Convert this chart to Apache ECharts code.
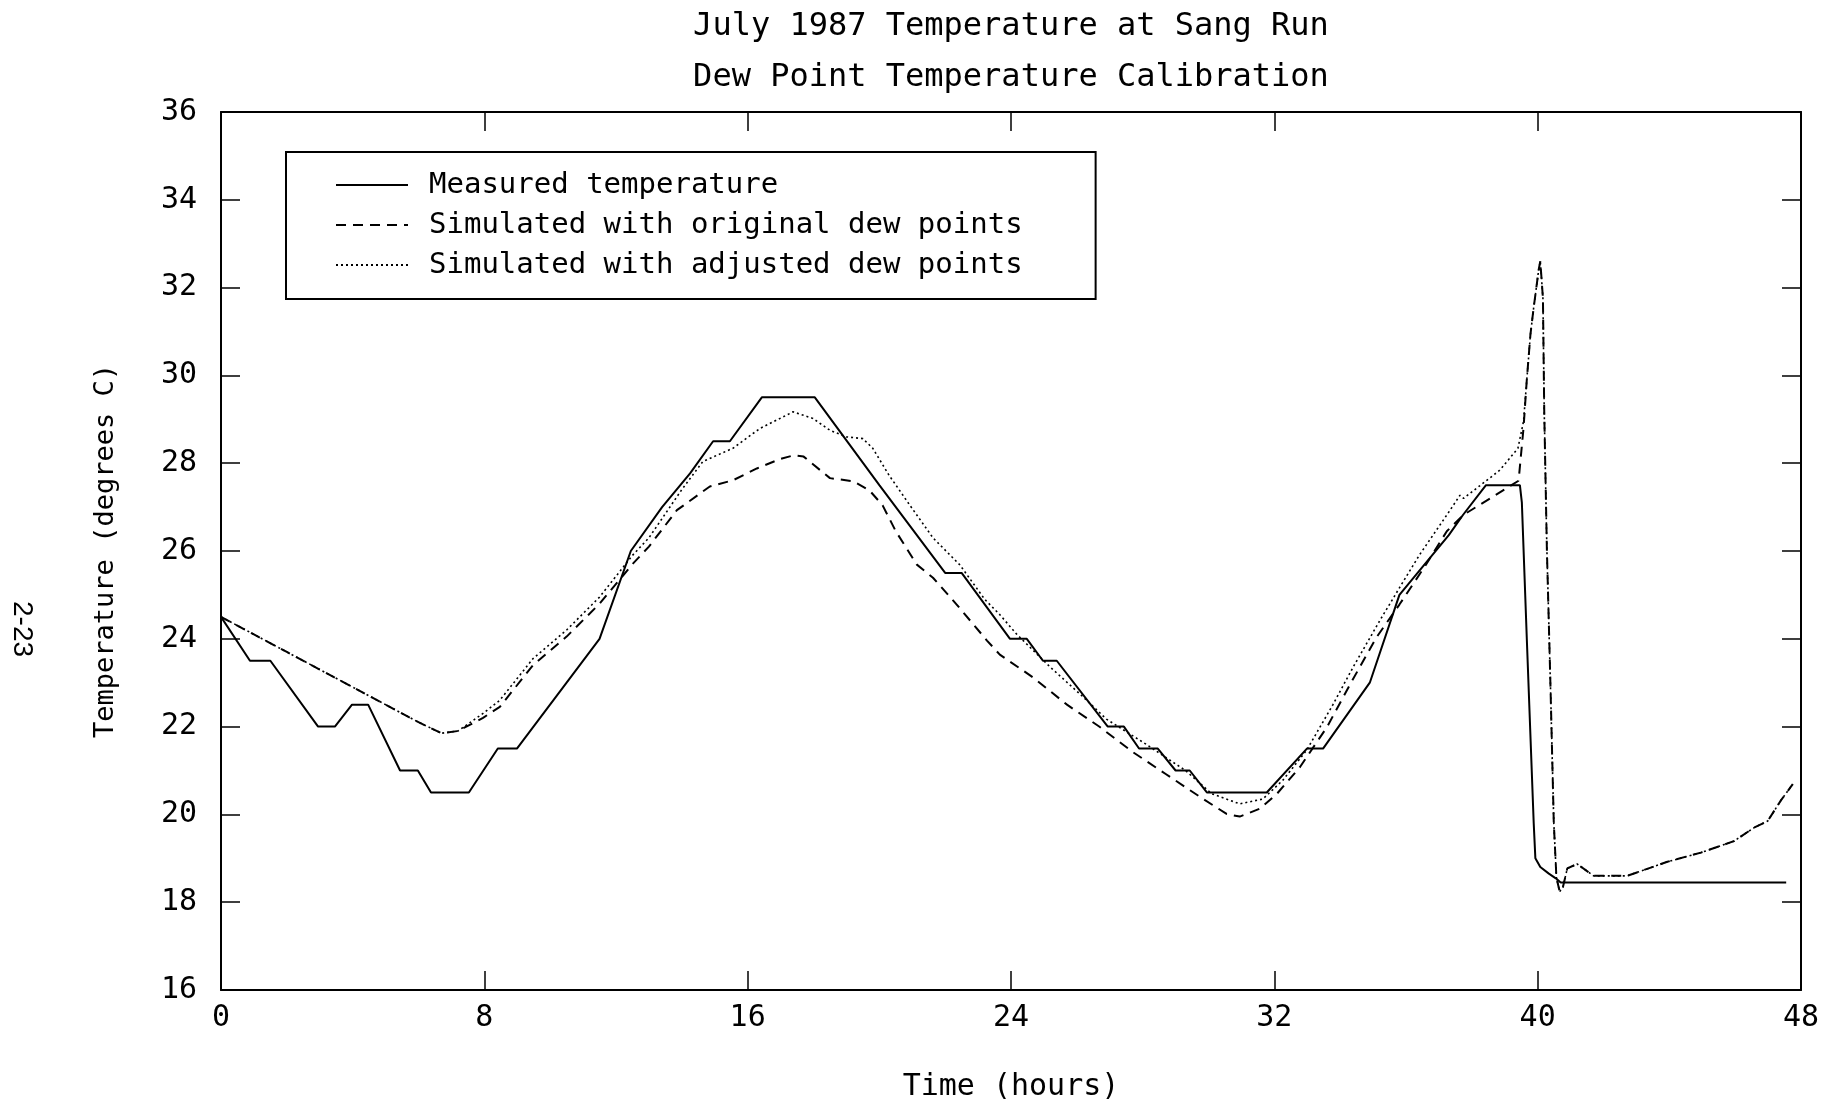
<!DOCTYPE html>
<html>
<head>
<meta charset="utf-8">
<title>July 1987 Temperature at Sang Run</title>
<script src="https://cdn.jsdelivr.net/npm/echarts@6/dist/echarts.min.js"></script>
<style>
  html, body { margin: 0; padding: 0; background: #fff; }
  #chart { width: 1834px; height: 1107px; }
</style>
</head>
<body>
<div id="chart"></div>
<script>
// Hours since start of record and water temperature (degrees C)
const measuredHours = [0, 0.88, 1.5, 2.95, 3.46, 3.98, 4.47, 5.44, 5.98, 6.38, 7.53, 8.41, 8.99,
  11.5, 12.45, 13.4, 14.25, 14.95, 15.46, 16.43, 18.04, 20.0, 22.0, 22.5, 23.97, 24.48, 24.97,
  25.39, 26.94, 27.43, 27.89, 28.46, 29.0, 29.43, 29.95, 31.77, 32.99, 33.48, 34.9, 35.8, 37.3,
  37.73, 38.43, 39.46, 39.52, 39.67, 39.88, 39.93, 40.08, 40.34, 40.54, 40.7, 47.55];
const measuredTemp = [24.5, 23.5, 23.5, 22, 22, 22.5, 22.5, 21, 21, 20.5, 20.5, 21.5, 21.5,
  24, 26, 27, 27.77, 28.5, 28.5, 29.5, 29.5, 27.5, 25.5, 25.5, 24, 24, 23.5,
  23.5, 22, 22, 21.5, 21.5, 21, 21, 20.5, 20.5, 21.5, 21.5, 23, 25, 26.36,
  26.82, 27.5, 27.5, 27.1, 24, 19.8, 19.0, 18.8, 18.65, 18.55, 18.45, 18.45];

const originalHours = [0, 1, 2, 3, 4, 5, 6, 6.7, 7.2, 7.96, 8.47, 9.48, 10.5, 11.5, 12.5, 13.0,
  13.85, 14.85, 15.55, 16.28, 17.0, 17.4, 17.7, 18.5, 19.2, 19.7, 20.1, 20.5, 21.14, 21.63, 22.35,
  23.27, 23.66, 24.67, 25.7, 26.7, 27.7, 28.7, 29.74, 30.55, 30.95, 31.56, 32.08, 32.78, 33.6,
  34.3, 35.1, 35.8, 36.6, 37.24, 37.74, 39.42, 39.57, 39.67, 39.78, 39.88, 40.03, 40.08, 40.16,
  40.2, 40.28, 40.39, 40.49, 40.57, 40.67, 40.77, 40.9, 41.2, 41.7, 42.72, 43.94, 44.96, 45.96,
  46.58, 46.99, 47.39, 47.75];
const originalTemp = [24.5, 24.1, 23.7, 23.3, 22.9, 22.5, 22.1, 21.85, 21.9, 22.2, 22.45, 23.4,
  24.05, 24.8, 25.7, 26.1, 26.93, 27.47, 27.61, 27.88, 28.1, 28.18, 28.15, 27.66, 27.59, 27.38,
  27.04, 26.45, 25.69, 25.39, 24.78, 23.96, 23.64, 23.12, 22.5, 21.99, 21.42, 20.92, 20.4, 20.01,
  19.95, 20.13, 20.47, 21.08, 21.99, 22.96, 24.03, 24.78, 25.68, 26.45, 26.82, 27.6, 28.8, 29.9,
  30.93, 31.55, 32.4, 32.6, 31.76, 29.16, 26.04, 22.9, 19.8, 18.56, 18.24, 18.35, 18.77, 18.87,
  18.6, 18.6, 18.92, 19.13, 19.39, 19.7, 19.85, 20.32, 20.69];

const adjustedHours = [0, 1, 2, 3, 4, 5, 6, 6.7, 7.2, 7.96, 8.47, 9.48, 10.5, 11.5, 12.5, 13.0,
  14.0, 14.64, 15.55, 16.37, 17.38, 17.98, 18.5, 19.0, 19.5, 19.8, 20.3, 20.93, 21.63, 22.45,
  23.2, 23.66, 24.18, 25.2, 26.2, 26.9, 28.1, 29.3, 30.1, 30.95, 31.65, 32.26, 32.98, 33.78,
  34.39, 35.2, 35.8, 36.4, 37.24, 37.64, 37.75, 38.85, 39.4, 39.57, 39.67, 39.78, 39.88, 40.03,
  40.08, 40.16, 40.2, 40.28, 40.39, 40.49, 40.57, 40.67, 40.77, 40.9, 41.2, 41.7, 42.72, 43.94,
  44.96, 45.96, 46.58, 46.99, 47.39, 47.75];
const adjustedTemp = [24.5, 24.1, 23.7, 23.3, 22.9, 22.5, 22.1, 21.85, 21.9, 22.3, 22.6, 23.55,
  24.2, 24.95, 25.9, 26.3, 27.4, 28.04, 28.34, 28.79, 29.17, 29.02, 28.75, 28.6, 28.56, 28.34,
  27.72, 27.04, 26.3, 25.68, 24.9, 24.55, 24.1, 23.35, 22.67, 22.17, 21.6, 21.0, 20.47, 20.24,
  20.35, 20.78, 21.46, 22.5, 23.35, 24.41, 25.16, 25.9, 26.82, 27.27, 27.2, 27.84, 28.34, 28.95,
  29.9, 30.93, 31.55, 32.4, 32.6, 31.76, 29.16, 26.04, 22.9, 19.8, 18.56, 18.24, 18.35, 18.77,
  18.87, 18.6, 18.6, 18.92, 19.13, 19.39, 19.7, 19.85, 20.32, 20.69];

const seriesNames = ['Measured temperature', 'Simulated with original dew points', 'Simulated with adjusted dew points'];
const xTicks = [0, 8, 16, 24, 32, 40, 48];
const yTicks = [16, 18, 20, 22, 24, 26, 28, 30, 32, 34, 36];

const FONT = '"DejaVu Sans Mono", monospace';
const pairs = (xs, ys) => xs.map((x, i) => [x, ys[i]]);

const axisLineStyle = { show: true, onZero: false, lineStyle: { color: '#000', width: 2 } };
const tickStyle = { show: true, inside: true, length: 19, lineStyle: { color: '#000', width: 1.5 } };

const chart = echarts.init(document.getElementById('chart'), null, { renderer: 'canvas' });

chart.setOption({
  animation: false,
  backgroundColor: '#fff',
  title: [
    {
      text: 'July 1987 Temperature at Sang Run',
      left: 1011, top: 9, textAlign: 'center', padding: 0,
      textStyle: { fontFamily: FONT, fontSize: 32, fontWeight: 'normal', color: '#000', lineHeight: 36 }
    },
    {
      text: 'Dew Point Temperature Calibration',
      left: 1011, top: 60, textAlign: 'center', padding: 0,
      textStyle: { fontFamily: FONT, fontSize: 32, fontWeight: 'normal', color: '#000', lineHeight: 36 }
    }
  ],
  legend: {
    data: seriesNames,
    orient: 'vertical',
    left: 286, top: 152,
    padding: [17, 73, 18, 49],
    itemWidth: 72, itemHeight: 14, itemGap: 8,
    borderColor: '#000', borderWidth: 2,
    selectedMode: false,
    // line samples only, no marker in the middle of each sample
    itemStyle: { color: 'rgba(0,0,0,0)', borderColor: 'rgba(0,0,0,0)', borderWidth: 0, opacity: 0 },
    textStyle: { fontFamily: FONT, fontSize: 29, color: '#000', lineHeight: 32, padding: [0, 0, 0, 16] }
  },
  graphic: [
    {
      type: 'text', x: 22, y: 629, rotation: -Math.PI / 2,
      style: { text: '2-23', font: '28px "Liberation Sans", Arial, sans-serif', fill: '#000', align: 'center', verticalAlign: 'middle' }
    }
  ],
  grid: { left: 221, top: 112, right: 33, bottom: 113, containLabel: false },
  xAxis: [
    {
      type: 'value', position: 'bottom', min: xTicks[0], max: xTicks[xTicks.length - 1], interval: 8,
      axisLine: axisLineStyle, axisTick: tickStyle, splitLine: { show: false },
      axisLabel: { color: '#000', fontFamily: FONT, fontSize: 30, margin: 13 },
      name: 'Time (hours)', nameLocation: 'middle', nameGap: 82,
      nameTextStyle: { fontFamily: FONT, fontSize: 30, color: '#000' }
    },
    {
      type: 'value', position: 'top', min: xTicks[0], max: xTicks[xTicks.length - 1], interval: 8,
      axisLine: axisLineStyle, axisTick: tickStyle, splitLine: { show: false },
      axisLabel: { show: false }
    }
  ],
  yAxis: [
    {
      type: 'value', position: 'left', min: yTicks[0], max: yTicks[yTicks.length - 1], interval: 2,
      axisLine: axisLineStyle, axisTick: tickStyle, splitLine: { show: false },
      axisLabel: { color: '#000', fontFamily: FONT, fontSize: 30, margin: 24 },
      name: 'Temperature (degrees C)', nameLocation: 'middle', nameRotate: 90, nameGap: 102,
      nameTextStyle: { fontFamily: FONT, fontSize: 27, color: '#000' }
    },
    {
      type: 'value', position: 'right', min: yTicks[0], max: yTicks[yTicks.length - 1], interval: 2,
      axisLine: axisLineStyle, axisTick: tickStyle, splitLine: { show: false },
      axisLabel: { show: false }
    }
  ],
  series: [
    {
      name: seriesNames[0], type: 'line', xAxisIndex: 0, yAxisIndex: 0,
      data: pairs(measuredHours, measuredTemp),
      symbol: 'none', showSymbol: false,
      lineStyle: { color: '#000', width: 2, type: 'solid' },
      itemStyle: { color: '#000' }
    },
    {
      name: seriesNames[1], type: 'line', xAxisIndex: 0, yAxisIndex: 0,
      data: pairs(originalHours, originalTemp),
      symbol: 'none', showSymbol: false,
      lineStyle: { color: '#000', width: 2, type: [10, 7] },
      itemStyle: { color: '#000' }
    },
    {
      name: seriesNames[2], type: 'line', xAxisIndex: 0, yAxisIndex: 0,
      data: pairs(adjustedHours, adjustedTemp),
      symbol: 'none', showSymbol: false,
      lineStyle: { color: '#000', width: 1.6, type: [2, 3] },
      itemStyle: { color: '#000' }
    }
  ]
});
</script>
</body>
</html>
